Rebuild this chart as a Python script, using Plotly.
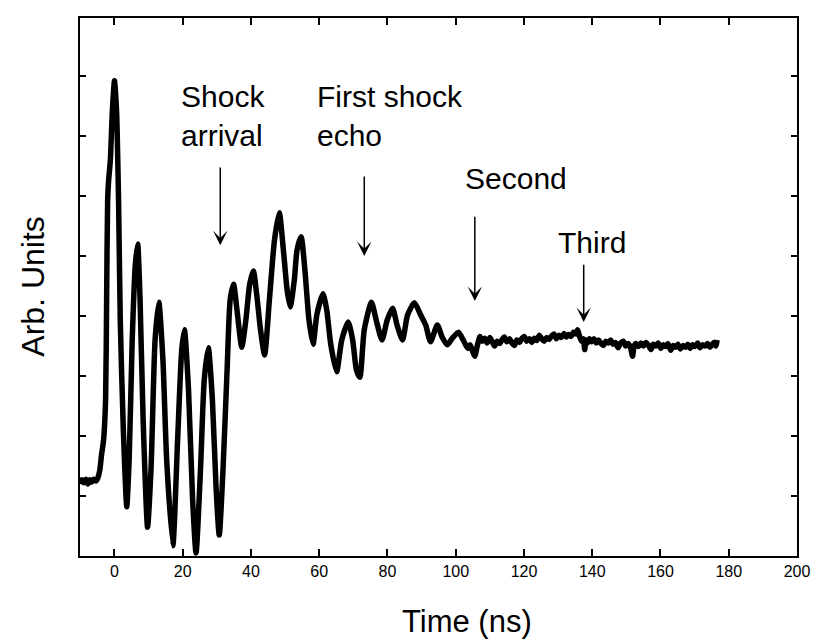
import plotly.graph_objects as go

# Time (ns) and signal (arbitrary units)
time_ns = [
    -10.1, -9.6, -9.0, -8.4, -7.8, -7.2, -6.7, -6.1, -5.5, -4.9, -4.3, -3.8, -3.2,
    -2.6, -2.3, -2.0, -1.7, -1.2, -0.6, 0.0, 0.6, 1.2, 1.7, 2.6, 3.6,
    4.3, 5.2, 6.1, 6.8, 7.5, 8.4, 9.7,
    10.7, 11.9, 13.0, 14.2, 15.3, 17.1,
    18.5, 19.7, 20.5, 21.7, 22.9, 23.9,
    25.2, 26.3, 27.5, 28.7, 29.8, 30.7,
    31.8, 33.0, 33.9, 34.9, 35.9, 37.3,
    38.5, 39.6, 40.7, 41.7, 42.8, 44.0,
    45.4, 46.9, 48.3, 49.5, 50.6, 51.5,
    52.7, 53.5, 54.7, 55.8, 57.0, 58.2,
    59.3, 61.1, 62.2, 63.4, 65.1,
    66.6, 68.5, 69.8, 70.9, 71.9,
    73.2, 75.3, 76.7, 78.4,
    79.9, 81.5, 82.8, 84.4,
    85.9, 87.9, 89.7, 91.2, 92.6, 94.6, 96.0, 97.5, 99.0, 100.8,
    102.2, 102.9, 103.6, 104.2, 104.9, 105.6, 106.3, 107.1, 107.8, 108.5,
    109.2, 110.0, 110.7, 111.4, 112.1, 112.9, 113.6, 114.3, 115.0, 115.8,
    116.5, 117.2, 117.9, 118.7, 119.4, 120.1, 120.8, 121.6, 122.3, 123.0,
    123.7, 124.5, 125.2, 125.9, 126.6, 127.4, 128.1, 128.8, 129.5, 130.2,
    130.9, 131.7, 132.4, 133.1, 133.8, 134.5, 135.2, 135.7, 136.3, 136.9,
    137.4, 137.8, 138.2, 138.6, 139.2, 139.8, 140.5, 141.2, 141.9, 142.6,
    143.3, 144.0, 144.7, 145.4, 146.1, 146.8, 147.6, 148.3, 149.1, 149.8,
    150.5, 151.2, 151.8, 152.3, 152.8, 153.6, 154.3, 155.0, 155.7, 156.4,
    157.2, 157.9, 158.6, 159.3, 160.1, 160.8, 161.5, 162.2, 163.0, 163.7,
    164.4, 165.1, 165.8, 166.6, 167.3, 168.0, 168.7, 169.4, 170.1, 170.9,
    171.6, 172.3, 173.1, 173.8, 174.5, 175.2, 175.7, 176.2, 176.6,
]
signal_au = [
    1.20, 1.27, 1.22, 1.28, 1.20, 1.27, 1.23, 1.28, 1.25, 1.30, 1.43, 1.68, 1.93,
    2.60, 4.27, 5.93, 6.27, 6.60, 7.43, 7.92, 7.43, 5.93, 3.93, 2.10, 0.82,
    1.60, 3.60, 4.85, 5.20, 4.27, 2.27, 0.48,
    1.43, 3.60, 4.23, 3.27, 1.60, 0.17,
    1.93, 3.43, 3.77, 2.77, 0.93, 0.05,
    1.43, 2.93, 3.47, 2.60, 1.10, 0.35,
    1.43, 3.10, 4.27, 4.53, 4.10, 3.48,
    3.93, 4.52, 4.75, 4.35, 3.77, 3.35,
    4.27, 5.27, 5.72, 5.10, 4.43, 4.15,
    4.60, 5.10, 5.32, 4.77, 3.93, 3.53,
    4.02, 4.37, 4.10, 3.52, 3.07,
    3.60, 3.90, 3.60, 3.10, 2.98,
    3.77, 4.23, 3.93, 3.60,
    3.93, 4.13, 3.85, 3.60,
    4.02, 4.22, 4.02, 3.85, 3.57, 3.85, 3.65, 3.52, 3.63, 3.73,
    3.60, 3.52, 3.46, 3.52, 3.42, 3.33, 3.50, 3.66, 3.58, 3.63,
    3.55, 3.64, 3.57, 3.50, 3.58, 3.54, 3.61, 3.65, 3.57, 3.62,
    3.55, 3.51, 3.60, 3.56, 3.63, 3.66, 3.58, 3.62, 3.56, 3.63,
    3.59, 3.68, 3.62, 3.58, 3.64, 3.61, 3.67, 3.70, 3.62, 3.68,
    3.64, 3.71, 3.65, 3.69, 3.66, 3.73, 3.70, 3.77, 3.66, 3.58,
    3.62, 3.44, 3.60, 3.55, 3.62, 3.57, 3.62, 3.55, 3.60, 3.54,
    3.51, 3.58, 3.55, 3.60, 3.53, 3.56, 3.47, 3.55, 3.58, 3.50,
    3.54, 3.48, 3.33, 3.50, 3.54, 3.49, 3.55, 3.50, 3.56, 3.52,
    3.44, 3.53, 3.50, 3.55, 3.46, 3.52, 3.49, 3.54, 3.43, 3.51,
    3.48, 3.53, 3.45, 3.51, 3.48, 3.53, 3.46, 3.52, 3.49, 3.55,
    3.47, 3.52, 3.50, 3.54, 3.48, 3.53, 3.56, 3.50, 3.60,
]

x_ticks = [0, 20, 40, 60, 80, 100, 120, 140, 160, 180, 200]
y_ticks = [1, 2, 3, 4, 5, 6, 7, 8]

# labels: (text, left x, centre y)
labels = [
    ("Shock<br>arrival", 18.8, 7.33),
    ("First shock<br>echo", 58.8, 7.33),
    ("Second", 102.2, 6.30),
    ("Third", 129.4, 5.22),
]
# arrows: (x, tail y, tip y)
arrows = [
    (31.0, 6.50, 5.18),
    (73.2, 6.35, 5.00),
    (105.6, 5.68, 4.25),
    (137.5, 4.88, 3.90),
]

FONT = "Liberation Sans, Arial, Helvetica, sans-serif"

fig = go.Figure()
fig.add_trace(go.Scatter(
    x=time_ns, y=signal_au, mode="lines",
    line=dict(color="black", width=5.5, shape="spline", smoothing=0.6),
    showlegend=False, hoverinfo="skip",
))

annotations = []
for text, lx, cy in labels:
    annotations.append(dict(
        x=lx, y=cy, xref="x", yref="y", text=text, showarrow=False,
        xanchor="left", yanchor="middle", align="left",
        font=dict(family=FONT, size=30, color="black"),
    ))
for ax_x, tail_y, tip_y in arrows:
    annotations.append(dict(
        x=ax_x, y=tip_y, ax=ax_x, ay=tail_y, xref="x", yref="y",
        axref="x", ayref="y", text="", showarrow=True,
        arrowhead=3, arrowsize=1.6, arrowwidth=1.5, arrowcolor="black",
    ))
annotations.append(dict(
    x=0.54, y=-0.122, xref="paper", yref="paper", text="Time (ns)",
    showarrow=False, xanchor="center", yanchor="middle",
    font=dict(family=FONT, size=31, color="black"),
))
annotations.append(dict(
    x=-0.066, y=0.5, xref="paper", yref="paper", text="Arb. Units",
    showarrow=False, xanchor="center", yanchor="middle", textangle=-90,
    font=dict(family=FONT, size=32, color="black"),
))

fig.update_layout(
    width=822, height=643,
    margin=dict(l=80, r=16, t=18, b=87),
    paper_bgcolor="white", plot_bgcolor="white",
    annotations=annotations,
    xaxis=dict(
        range=[-10.1, 200], tickvals=x_ticks, ticks="inside", ticklen=7,
        tickwidth=1.5, tickcolor="black", showline=True, linecolor="black",
        linewidth=1.5, mirror="ticks", showgrid=False, zeroline=False,
        tickfont=dict(family=FONT, size=16, color="black"),
    ),
    yaxis=dict(
        range=[0, 8.967], tickvals=y_ticks, ticks="inside", ticklen=6,
        tickwidth=1.5, tickcolor="black", showline=True, linecolor="black",
        linewidth=1.5, mirror="ticks", showgrid=False, zeroline=False,
        showticklabels=False,
    ),
)

fig.write_html("out.html")
